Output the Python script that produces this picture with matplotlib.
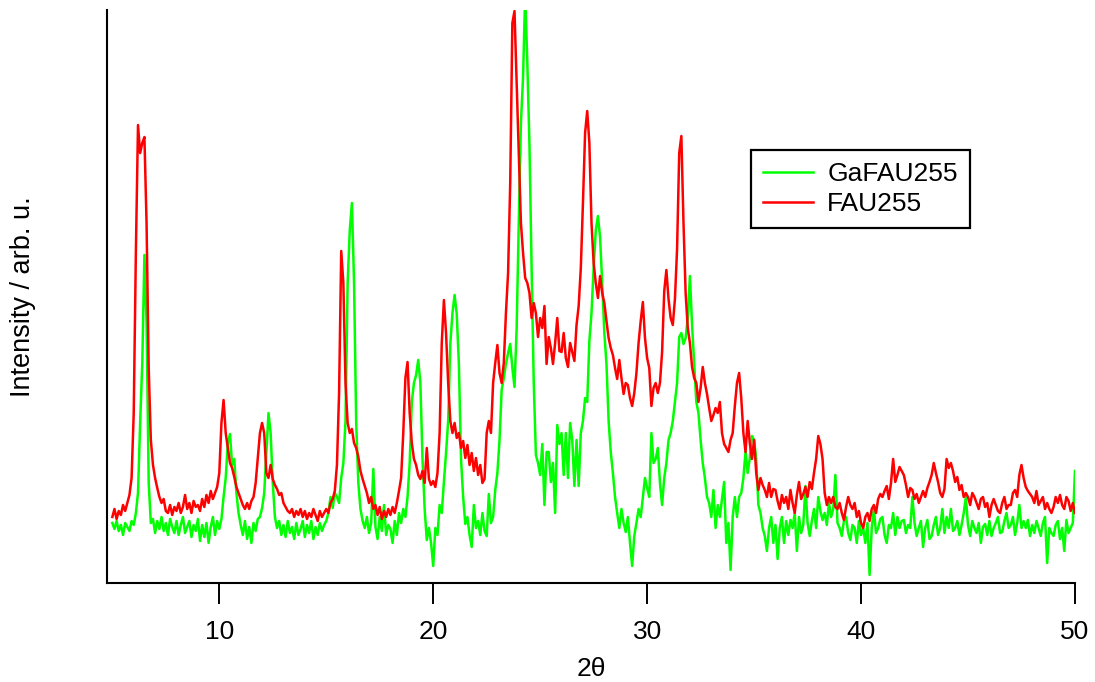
import numpy as np
import matplotlib
matplotlib.use('Agg')
import matplotlib.pyplot as plt

'''XRD patterns, intensity read off the reference picture (arb. u.)'''
two_theta = np.round(np.arange(5.0, 50.05, 0.1), 1)

# FAU255, one row per degree (x.0 ... x.9)
fau255 = [
    66, 74, 64, 72, 68, 78, 72, 80, 88, 105,
    170, 330, 458, 430, 440, 446, 360, 215, 143, 118,
    105, 95, 86, 80, 84, 72, 70, 78, 68, 76,
    72, 80, 70, 76, 88, 74, 80, 70, 82, 76,
    78, 72, 84, 76, 88, 80, 92, 84, 90, 96,
    110, 160, 183, 150, 135, 120, 115, 106, 96, 90,
    84, 78, 74, 80, 74, 82, 86, 100, 125, 150,
    160, 150, 110, 105, 118, 104, 98, 94, 88, 90,
    80, 76, 72, 70, 74, 66, 72, 68, 74, 66,
    72, 64, 70, 66, 74, 68, 62, 72, 66, 70,
    74, 70, 80, 84, 92, 118, 190, 332, 300, 200,
    160, 150, 154, 140, 135, 126, 112, 104, 97, 90,
    80, 86, 74, 78, 68, 76, 64, 72, 66, 74,
    68, 76, 70, 80, 92, 105, 150, 205, 221, 170,
    140, 124, 118, 108, 104, 112, 100, 135, 104, 98,
    102, 96, 110, 150, 240, 283, 250, 200, 162, 150,
    160, 145, 150, 135, 142, 125, 138, 118, 130, 112,
    125, 108, 118, 100, 104, 150, 162, 150, 200, 220,
    238, 210, 200, 220, 270, 310, 400, 560, 572, 500,
    430, 360, 330, 305, 300, 290, 265, 280, 270, 246,
    265, 255, 277, 219, 246, 235, 219, 240, 265, 232,
    231, 250, 225, 216, 240, 231, 222, 258, 277, 315,
    380, 450, 472, 440, 360, 320, 300, 285, 307, 290,
    280, 262, 245, 235, 228, 215, 204, 223, 205, 189,
    200, 198, 185, 177, 190, 210, 240, 262, 281, 245,
    225, 215, 177, 195, 200, 190, 200, 231, 292, 313,
    284, 265, 258, 284, 334, 430, 447, 360, 290, 255,
    240, 216, 205, 200, 181, 195, 216, 200, 189, 175,
    162, 168, 175, 170, 181, 150, 139, 135, 131, 143,
    150, 177, 200, 210, 185, 150, 131, 162, 140, 124,
    143, 110, 93, 105, 98, 93, 86, 100, 86, 94,
    93, 82, 74, 88, 80, 86, 74, 93, 80, 70,
    88, 101, 84, 89, 96, 86, 101, 94, 110, 124,
    147, 139, 124, 90, 78, 86, 80, 86, 76, 74,
    80, 70, 63, 76, 86, 78, 74, 80, 66, 72,
    60, 55, 66, 70, 62, 74, 78, 70, 84, 89,
    86, 92, 97, 84, 100, 124, 101, 108, 116, 112,
    108, 98, 86, 95, 93, 84, 89, 80, 86, 92,
    86, 95, 101, 108, 120, 110, 101, 90, 86, 94,
    124, 115, 120, 112, 101, 106, 93, 98, 86, 90,
    86, 78, 90, 86, 80, 74, 84, 86, 76, 80,
    66, 78, 84, 78, 72, 70, 80, 86, 74, 78,
    78, 90, 93, 86, 108, 118, 105, 96, 92, 89,
    86, 80, 92, 78, 82, 86, 74, 80, 74, 70,
    76, 86, 80, 88, 78, 74, 86, 82, 72, 80,
    70,
]

# GaFAU255, same grid
gafau255 = [
    60, 54, 62, 52, 58, 48, 60, 56, 52, 62,
    58, 70, 90, 160, 220, 328, 260, 100, 60, 64,
    50, 62, 54, 66, 52, 60, 48, 64, 56, 50,
    62, 48, 58, 66, 50, 56, 62, 46, 58, 52,
    64, 42, 58, 46, 60, 40, 56, 66, 48, 62,
    54, 64, 86, 105, 140, 149, 118, 124, 90, 70,
    58, 48, 62, 44, 56, 40, 60, 52, 64, 66,
    75, 90, 130, 170, 150, 100, 66, 55, 62, 48,
    58, 46, 62, 50, 56, 44, 60, 48, 54, 62,
    46, 58, 50, 62, 44, 56, 48, 60, 52, 58,
    62, 70, 86, 75, 90, 86, 80, 105, 120, 162,
    300, 353, 380, 300, 160, 100, 74, 62, 55, 66,
    50, 60, 114, 56, 44, 66, 52, 78, 48, 58,
    54, 40, 62, 48, 70, 60, 74, 66, 86, 120,
    181, 200, 208, 223, 200, 124, 74, 43, 55, 40,
    17, 55, 48, 78, 70, 101, 130, 162, 239, 270,
    288, 269, 219, 124, 86, 59, 66, 48, 36, 78,
    55, 62, 48, 70, 52, 47, 89, 60, 66, 93,
    110, 143, 193, 205, 219, 230, 239, 215, 196, 254,
    361, 460, 506, 590, 520, 438, 315, 200, 128, 120,
    108, 139, 78, 131, 131, 101, 120, 70, 158, 139,
    150, 108, 150, 105, 160, 143, 97, 143, 97, 150,
    162, 185, 181, 242, 270, 315, 353, 367, 346, 300,
    250, 219, 162, 131, 110, 86, 70, 55, 74, 60,
    51, 66, 40, 17, 47, 60, 74, 66, 86, 105,
    95, 86, 150, 120, 124, 135, 100, 78, 105, 120,
    143, 150, 162, 181, 200, 246, 250, 239, 245, 265,
    307, 258, 219, 181, 170, 143, 120, 105, 86, 80,
    66, 93, 55, 78, 66, 84, 101, 40, 60, 13,
    66, 86, 66, 86, 90, 105, 131, 110, 125, 147,
    143, 124, 78, 70, 55, 47, 32, 55, 66, 40,
    58, 24, 55, 66, 40, 62, 48, 63, 55, 70,
    32, 66, 50, 58, 97, 60, 47, 62, 74, 55,
    86, 72, 63, 70, 58, 80, 66, 74, 108, 60,
    55, 47, 62, 66, 50, 43, 58, 55, 40, 62,
    48, 55, 40, 60, 8, 55, 74, 50, 55, 64,
    66, 48, 40, 58, 55, 70, 48, 66, 55, 62,
    63, 50, 58, 55, 86, 60, 47, 55, 62, 36,
    55, 63, 44, 47, 58, 66, 48, 55, 74, 50,
    66, 55, 74, 52, 55, 62, 48, 58, 70, 86,
    58, 47, 62, 55, 50, 60, 40, 56, 59, 48,
    62, 47, 55, 60, 66, 50, 51, 62, 70, 55,
    58, 66, 48, 60, 78, 55, 62, 55, 63, 47,
    58, 50, 62, 55, 47, 60, 66, 20, 55, 50,
    47, 58, 62, 44, 55, 32, 63, 50, 55, 60,
    112,
]

x_ticks = [10, 20, 30, 40, 50]

plt.rcParams['font.family'] = ['Liberation Sans', 'DejaVu Sans']

fig = plt.figure(figsize=(10.95, 6.82), dpi=100)
ax = fig.add_axes([0.0977, 0.1452, 0.884, 0.8401])

ax.plot(two_theta, gafau255, color='#00ff00', lw=1.8, label='GaFAU255')
ax.plot(two_theta, fau255, color='#ff0000', lw=1.8, label='FAU255')

ax.set_xlim(4.75, 50)
ax.set_ylim(0, 573)

'''only left and bottom axis, no y ticks'''
for side in ['top', 'right']:
    ax.spines[side].set_visible(False)
for side in ['left', 'bottom']:
    ax.spines[side].set_linewidth(1.5)
ax.set_yticks([])
ax.set_xticks(x_ticks)
ax.tick_params(axis='x', direction='out', length=15, width=1.4, pad=12, labelsize=19)

ax.set_xlabel('2θ', fontsize=19, labelpad=9)
ax.set_ylabel('Intensity / arb. u.', fontsize=19.5, labelpad=51)

leg = ax.legend(loc='upper left', bbox_to_anchor=(0.665, 0.7557), borderaxespad=0,
                fontsize=19, fancybox=False, framealpha=1, edgecolor='black',
                handlelength=1.9, handletextpad=0.55, borderpad=0.45,
                labelspacing=0.25)
leg.get_frame().set_linewidth(1.6)

fig.savefig('out.png', dpi=100)
